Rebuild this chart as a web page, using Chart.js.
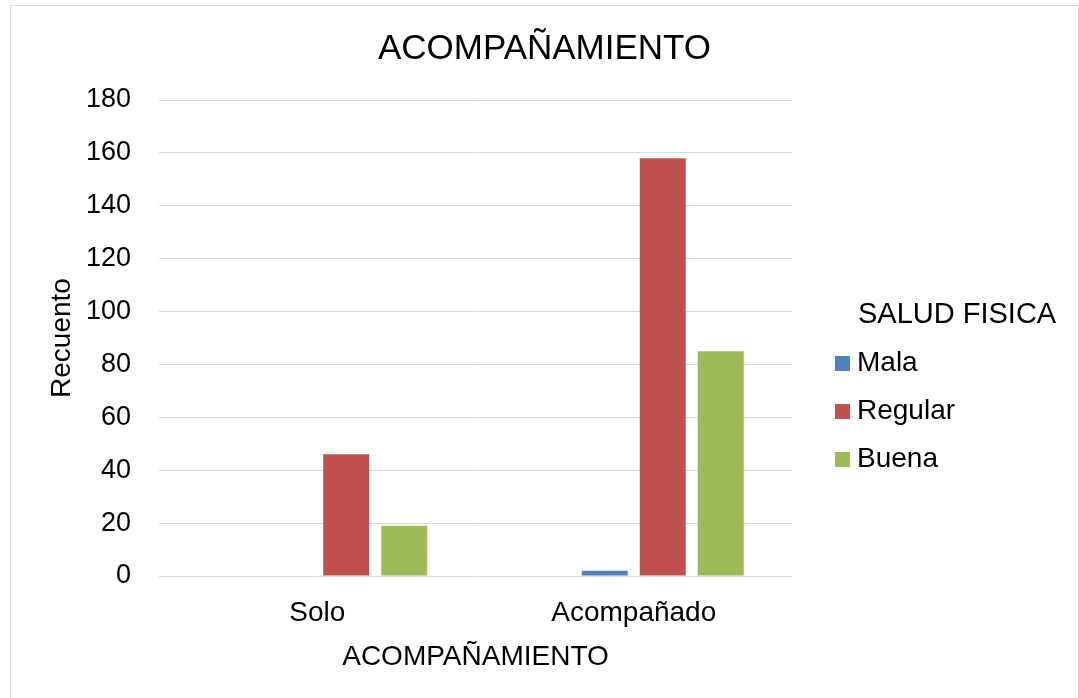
<!DOCTYPE html>
<html lang="es">
<head>
<meta charset="utf-8">
<title>ACOMPAÑAMIENTO</title>
<script src="https://cdn.jsdelivr.net/npm/chart.js@4.4.1/dist/chart.umd.min.js"></script>
<style>
  html, body { margin: 0; padding: 0; background: #fff; overflow: hidden; }
  .frame {
    position: absolute; left: 10px; top: 5px;
    width: 1069px; height: 700px;
    box-sizing: border-box;
    border: 1px solid #d9d9d9;
    background: #fff;
  }
  canvas { display: block; }
</style>
</head>
<body>
<div class="frame">
  <canvas id="saludChart" width="1067" height="692"></canvas>
</div>
<script>
// datos
const categories = ['Solo', 'Acompañado'];
const seriesNames = ['Mala', 'Regular', 'Buena'];
const emptySlot = [null, null];   // serie vacía que ocupa el primer hueco del grupo
const mala = [0, 2];
const regular = [46, 158];
const buena = [19, 85];
const yMax = 180;
const yStep = 20;

const chartTitle = 'ACOMPAÑAMIENTO';
const xTitle = 'ACOMPAÑAMIENTO';
const yTitle = 'Recuento';
const legendTitle = 'SALUD FISICA';

const colors = ['#4F81BD', '#C0504D', '#9BBB59'];
const FONT = '"Liberation Sans", Arial, sans-serif';

// leyenda a la derecha con título alineado al texto
const saludLegend = {
    id: 'saludLegend',
    afterDraw(chart) {
        const { ctx, chartArea } = chart;
        const boxX = chartArea.right + 43;
        const textX = boxX + 22;
        ctx.save();
        ctx.textAlign = 'left';
        ctx.textBaseline = 'middle';
        ctx.fillStyle = '#000';
        ctx.font = `29px ${FONT}`;
        ctx.fillText(legendTitle, textX + 1, 309);
        ctx.font = `28px ${FONT}`;
        chart.data.datasets.filter(ds => ds.label).forEach((ds, i) => {
            const y = 357 + i * 48.2;
            ctx.fillStyle = ds.backgroundColor;
            ctx.fillRect(boxX, Math.round(y - 7), 15, 15);
            ctx.fillStyle = '#000';
            ctx.fillText(ds.label, textX, y);
        });
        ctx.restore();
    }
};

const initChart = () => {
    const ctx = document.getElementById('saludChart').getContext('2d');
    const seriesData = [mala, regular, buena];

    new Chart(ctx, {
        type: 'bar',
        data: {
            labels: categories,
            datasets: [
                { label: '', data: emptySlot, backgroundColor: 'rgba(0,0,0,0)' },
                ...seriesNames.map((name, i) => ({
                    label: name,
                    data: seriesData[i],
                    backgroundColor: colors[i],
                    borderWidth: 0
                }))
            ]
        },
        options: {
            responsive: false,
            animation: false,
            devicePixelRatio: 1,
            categoryPercentage: 0.733,
            barPercentage: 0.793,
            plugins: {
                legend: { display: false },
                tooltip: { enabled: false },
                title: {
                    display: true,
                    text: chartTitle,
                    color: '#000',
                    font: { family: FONT, size: 35, weight: 'normal' },
                    padding: { top: 22, bottom: 30 }
                }
            },
            scales: {
                x: {
                    grid: { display: false },
                    border: { display: false },
                    ticks: { color: '#000', font: { family: FONT, size: 28 }, padding: 12 },
                    title: {
                        display: true,
                        text: xTitle,
                        color: '#000',
                        font: { family: FONT, size: 28 },
                        padding: { top: 0, bottom: 24 }
                    },
                    afterFit: (scale) => { scale.height = 122; }
                },
                y: {
                    min: 0,
                    max: yMax,
                    ticks: { stepSize: yStep, color: '#000', font: { family: FONT, size: 27 }, padding: 28 },
                    grid: { color: '#d9d9d9', lineWidth: 1, drawTicks: false },
                    border: { display: false },
                    title: {
                        display: true,
                        text: yTitle,
                        color: '#000',
                        font: { family: FONT, size: 28 },
                        padding: { top: 34, bottom: 0 }
                    },
                    afterFit: (scale) => { scale.width = 148; }
                },
                // columna reservada para la leyenda a la derecha
                legendSpace: {
                    position: 'right',
                    grid: { display: false },
                    border: { display: false },
                    ticks: { display: false },
                    afterFit: (scale) => { scale.width = 286; }
                }
            }
        },
        plugins: [saludLegend]
    });
};

document.addEventListener('DOMContentLoaded', initChart);
</script>
</body>
</html>
